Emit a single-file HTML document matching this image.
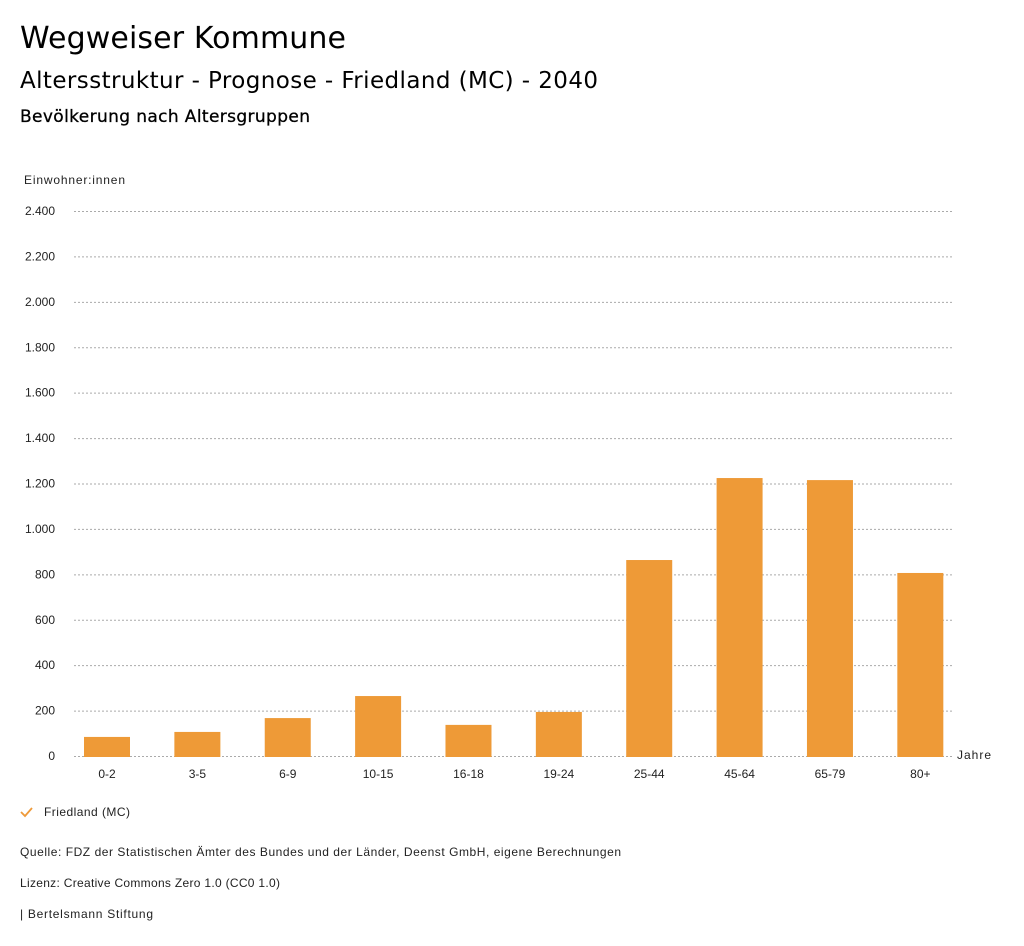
<!DOCTYPE html>
<html><head><meta charset="utf-8"><style>
body{margin:0;background:#fff;width:1024px;height:946px;overflow:hidden}
svg{display:block}
.dj{font-family:"DejaVu Sans",sans-serif;fill:#000}
.lb{font-family:"Liberation Sans",sans-serif;font-size:12px;fill:#222}
</style></head><body>
<svg id="c" width="1024" height="946">
<text class="dj" x="20" y="48" font-size="30" textLength="326">Wegweiser Kommune</text>
<text class="dj" x="20" y="88" font-size="23" textLength="578">Altersstruktur - Prognose - Friedland (MC) - 2040</text>
<text class="dj" x="20" y="122" font-size="17" textLength="290" stroke="#000" stroke-width="0.3">Bevölkerung nach Altersgruppen</text>
<text class="lb" x="24" y="184" textLength="101">Einwohner:innen</text>
<text class="lb" x="957" y="759" textLength="34">Jahre</text>
<g id="grid"></g><g id="bars"></g><g id="xl"></g>
<g>
<path d="M21 812 l4 4 l7 -8" stroke="#ee9a3a" stroke-width="1.8" fill="none"/>
<text class="lb" x="44" y="816" textLength="86">Friedland (MC)</text></g>
<text class="lb" x="20" y="856" textLength="601">Quelle: FDZ der Statistischen Ämter des Bundes und der Länder, Deenst GmbH, eigene Berechnungen</text>
<text class="lb" x="20" y="887" textLength="260">Lizenz: Creative Commons Zero 1.0 (CC0 1.0)</text>
<text class="lb" x="20" y="918" textLength="133">| Bertelsmann Stiftung</text>
</svg>
<script>
const categories=["0-2","3-5","6-9","10-15","16-18","19-24","25-44","45-64","65-79","80+"];
const values=[84,106,167,264,137,194,863,1224,1215,806];
const yTicks=[0,200,400,600,800,1000,1200,1400,1600,1800,2000,2200,2400];
const yTickLabels=["0","200","400","600","800","1.000","1.200","1.400","1.600","1.800","2.000","2.200","2.400"];
const NS="http://www.w3.org/2000/svg";
const y0=756,y1=211,yMax=2400;
const yS=v=>y0-(v/yMax)*(y0-y1);
const xC=i=>107+i*90.37;
function mk(t,a,p){const e=document.createElementNS(NS,t);for(const k in a)e.setAttribute(k,a[k]);p.appendChild(e);return e;}
const g=document.getElementById('grid'),b=document.getElementById('bars'),xl=document.getElementById('xl');
yTicks.forEach((v,i)=>{
const l=mk('line',{x1:74,x2:953,y1:yS(v)+0.5,y2:yS(v)+0.5,stroke:'#aaa','stroke-dasharray':'2,2'},g);


const t=mk('text',{x:55,y:yS(v)+4,'text-anchor':'end',class:'lb'},g);t.textContent=yTickLabels[i];


});
categories.forEach((c,i)=>{
const r=mk('rect',{x:xC(i)-23,y:yS(values[i]),width:46,height:y0+1-yS(values[i]),fill:'#ee9a37'},b);


const t=mk('text',{x:xC(i),y:778,'text-anchor':'middle',class:'lb'},xl);t.textContent=c;


});
</script>
</body></html>
